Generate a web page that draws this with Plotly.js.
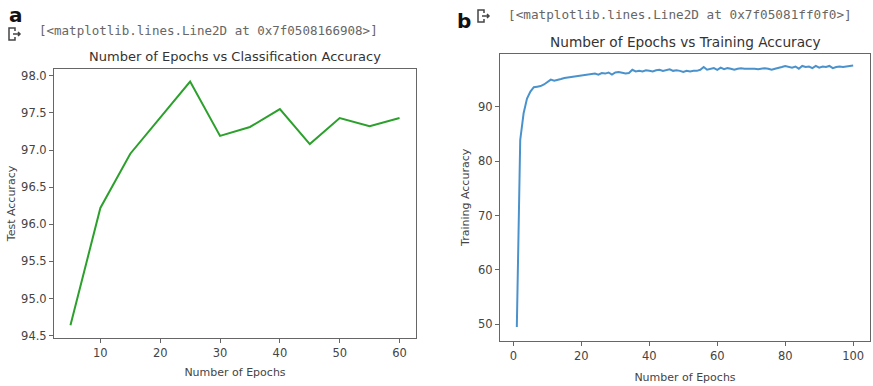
<!DOCTYPE html>
<html>
<head>
<meta charset="utf-8">
<script src="https://cdn.plot.ly/plotly-3.0.1.min.js"></script>
<style>html,body{margin:0;padding:0;background:#fff;}#chart{width:873px;height:386px;}</style>
</head>
<body>
<div id="chart"></div>
<script>
const testEpochs = [5, 10, 15, 20, 25, 30, 35, 40, 45, 50, 55, 60];
const testAccuracy = [94.64, 96.22, 96.95, 97.44, 97.92, 97.19, 97.31, 97.55, 97.08, 97.43, 97.32, 97.43];

const trainEpochs = [];
for (let i = 1; i <= 100; i++) trainEpochs.push(i);
const trainAccuracy = [
  49.5, 83.9, 88.8, 91.5, 92.8, 93.6, 93.7, 93.8, 94.1, 94.6,
  95.0, 94.8, 94.9, 95.1, 95.3, 95.4, 95.5, 95.6, 95.7, 95.8,
  95.8, 95.9, 96.0, 96.1, 95.9, 96.2, 96.1, 96.3, 95.9, 96.3,
  96.4, 96.3, 96.1, 96.2, 96.8, 96.5, 96.6, 96.5, 96.7, 96.6,
  96.5, 96.7, 96.8, 96.6, 96.7, 96.9, 96.6, 96.7, 96.6, 96.4,
  96.6, 96.5, 96.6, 96.6, 96.8, 97.3, 96.8, 96.9, 97.1, 96.8,
  97.2, 96.9, 97.1, 97.0, 96.8, 97.0, 97.1, 97.0, 97.0, 97.1,
  97.0, 96.9, 97.0, 97.1, 97.0, 96.8, 97.0, 97.1, 97.3, 97.5,
  97.3, 97.2, 97.4, 97.0, 97.5, 97.3, 97.4, 97.1, 97.5, 97.2,
  97.4, 97.3, 97.5, 97.1, 97.3, 97.4, 97.3, 97.4, 97.4, 97.6
];

const testTicks = [94.5, 95.0, 95.5, 96.0, 96.5, 97.0, 97.5, 98.0];
const trainTicks = [50, 60, 70, 80, 90];

const W = 873, H = 386;
const px = x => x / W;
const py = y => 1 - y / H;

const tickFont = {family: 'DejaVu Sans', size: 11.5, color: '#444'};
const axBase = {
  showgrid: false, zeroline: false, showline: true, mirror: true,
  linecolor: '#666', linewidth: 1, ticks: 'outside', ticklen: 4,
  tickcolor: '#666', tickfont: tickFont
};

const data = [
  {x: testEpochs, y: testAccuracy, xaxis: 'x', yaxis: 'y', mode: 'lines',
   line: {color: '#2ca02c', width: 2}, hoverinfo: 'skip'},
  {x: trainEpochs, y: trainAccuracy, xaxis: 'x2', yaxis: 'y2', mode: 'lines',
   line: {color: '#4a92cc', width: 2}, hoverinfo: 'skip'}
];

const titleFont = {family: 'DejaVu Sans', size: 11, color: '#444'};

function iconPath(x0, y0) {
  const p = (x, y) => px(x0 + x) + ',' + py(y0 + y);
  return 'M' + p(6, 3) + ' L' + p(6, 0) + ' L' + p(0, 0) + ' L' + p(0, 12) + ' L' + p(6, 12) + ' L' + p(6, 9) +
         ' M' + p(4, 6) + ' L' + p(11, 6) + ' M' + p(9, 4) + ' L' + p(11, 6) + ' L' + p(9, 8);
}

const layout = {
  width: W, height: H,
  margin: {l: 0, r: 0, t: 0, b: 0},
  paper_bgcolor: '#fff', plot_bgcolor: '#fff',
  showlegend: false,
  xaxis: Object.assign({}, axBase, {
    domain: [px(54), px(416)], range: [2.25, 62.75],
    tickvals: [10, 20, 30, 40, 50, 60], anchor: 'y',
    title: {text: 'Number of Epochs', font: titleFont, standoff: 9}
  }),
  yaxis: Object.assign({}, axBase, {
    domain: [py(338), py(69)], range: [94.47, 98.09],
    tickvals: testTicks, tickformat: '.1f', anchor: 'x',
    title: {text: 'Test Accuracy', font: titleFont, standoff: 3}
  }),
  xaxis2: Object.assign({}, axBase, {
    domain: [px(500), px(870)], range: [-3.95, 104.95],
    tickvals: [0, 20, 40, 60, 80, 100], anchor: 'y2',
    title: {text: 'Number of Epochs', font: titleFont, standoff: 11}
  }),
  yaxis2: Object.assign({}, axBase, {
    domain: [py(340.7), py(54)], range: [47.0, 99.7],
    tickvals: trainTicks, anchor: 'x2',
    title: {text: 'Training Accuracy', font: titleFont, standoff: 6}
  }),
  annotations: [
    {text: '<b>a</b>', xref: 'paper', yref: 'paper', x: px(7), y: py(15), xanchor: 'left', yanchor: 'middle',
     showarrow: false, font: {family: 'DejaVu Sans', size: 20, color: '#111'}},
    {text: '<b>b</b>', xref: 'paper', yref: 'paper', x: px(455), y: py(21), xanchor: 'left', yanchor: 'middle',
     showarrow: false, font: {family: 'DejaVu Sans', size: 20, color: '#111'}},
    {text: '[&lt;matplotlib.lines.Line2D at 0x7f0508166908&gt;]', xref: 'paper', yref: 'paper',
     x: px(37), y: py(30), xanchor: 'left', yanchor: 'middle', showarrow: false,
     font: {family: 'DejaVu Sans Mono', size: 12.5, color: '#666'}},
    {text: '[&lt;matplotlib.lines.Line2D at 0x7f05081ff0f0&gt;]', xref: 'paper', yref: 'paper',
     x: px(506), y: py(14), xanchor: 'left', yanchor: 'middle', showarrow: false,
     font: {family: 'DejaVu Sans Mono', size: 12.7, color: '#666'}},
    {text: 'Number of Epochs vs Classification Accuracy', xref: 'paper', yref: 'paper',
     x: px(235), y: py(57), xanchor: 'center', yanchor: 'middle', showarrow: false,
     font: {family: 'DejaVu Sans', size: 13, color: '#333'}},
    {text: 'Number of Epochs vs Training Accuracy', xref: 'paper', yref: 'paper',
     x: px(685), y: py(42), xanchor: 'center', yanchor: 'middle', showarrow: false,
     font: {family: 'DejaVu Sans', size: 13.7, color: '#333'}}
  ],
  shapes: [
    {type: 'path', xref: 'paper', yref: 'paper', path: iconPath(9, 28), line: {color: '#444', width: 1.5}},
    {type: 'path', xref: 'paper', yref: 'paper', path: iconPath(478, 10), line: {color: '#444', width: 1.5}}
  ]
};

Plotly.newPlot('chart', data, layout, {staticPlot: true, displayModeBar: false});
</script>
</body>
</html>
